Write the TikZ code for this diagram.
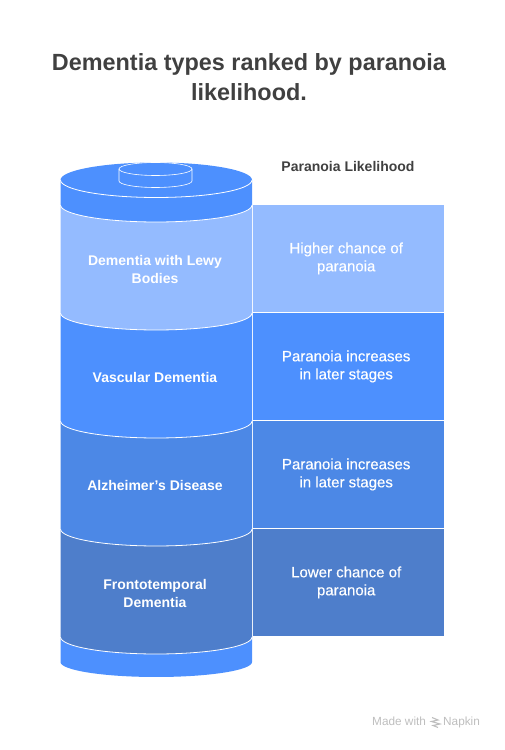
\documentclass[tikz,border=0pt]{standalone}
\usepackage{fontspec}
\setmainfont{Liberation Sans}
\newfontfamily\mediumfont[FakeBold=0.35]{Liberation Sans}
\definecolor{titleink}{RGB}{64,64,64}
\definecolor{capblue}{RGB}{77,144,254}
\definecolor{lewy}{RGB}{148,187,255}
\definecolor{vascular}{RGB}{77,144,254}
\definecolor{alzheimer}{RGB}{76,136,230}
\definecolor{fronto}{RGB}{78,126,203}
\definecolor{credit}{RGB}{190,190,190}
\tikzset{
  title/.style={font=\bfseries\fontsize{23.4}{30}\selectfont, text=titleink, align=center},
  heading/.style={font=\bfseries\fontsize{14}{18}\selectfont, text=titleink, align=center},
  layertext/.style={font=\bfseries\fontsize{14}{18}\selectfont, text=white, align=center},
  panel/.style={minimum width=191pt, minimum height=106.5pt, inner sep=0pt},
  paneltext/.style={font=\mediumfont\fontsize{15}{18}\selectfont, text=white, align=center},
  rim/.style={draw=white, line width=0.8pt},
  credittext/.style={font=\fontsize{11.8}{14}\selectfont, text=credit, inner sep=0pt},
}
% #1 name, #2 top edge, #3 colour, #4 left text, #5 right text
\newcommand{\Layer}[5]{%
  \fill[#3] (60.5,#2) -- (60.5,#2-108) arc[start angle=180, end angle=360, x radius=95.75, y radius=17] -- (252,#2) -- cycle;
  \draw[rim] (60.5,#2-108) arc[start angle=180, end angle=360, x radius=95.75, y radius=17];
  \node[layertext] (#1) at (155,#2-64.5) {#4};
  \node[panel, fill=#3, anchor=north west] (#1-panel) at (253,#2) {};
  \node[paneltext] (#1-note) at ([xshift=-2.5pt]#1-panel.center) {#5};
}

\begin{document}
\begin{tikzpicture}[x=1pt,y=1pt]
  \useasboundingbox (0,0) rectangle (504,750);

  \node[title] (heading) at (249,673) {Dementia types ranked by paranoia\\likelihood.};
  \node[heading] (likelihood) at (348,583) {Paranoia Likelihood};

  % Base of the stack
  \fill[capblue] (60.5,113) -- (60.5,88) arc[start angle=180, end angle=360, x radius=95.75, y radius=15] -- (252,113) -- cycle;

  % Layers, lowest first
  \Layer{frontotemporal}{221}{fronto}{Frontotemporal\\Dementia}{Lower chance of\\paranoia}
  \Layer{alzheimers}{329}{alzheimer}{Alzheimer's Disease}{Paranoia increases\\in later stages}
  \Layer{vascular}{437}{vascular}{Vascular Dementia}{Paranoia increases\\in later stages}
  \Layer{lewybodies}{545}{lewy}{Dementia with Lewy\\Bodies}{Higher chance of\\paranoia}

  % Top cap
  \fill[capblue] (60.5,570) -- (60.5,545) arc[start angle=180, end angle=360, x radius=95.75, y radius=17] -- (252,570) arc[start angle=0, end angle=180, x radius=95.75, y radius=17.5] -- cycle;
  \draw[rim] (60.5,545) arc[start angle=180, end angle=360, x radius=95.75, y radius=17];
  \draw[rim] (60.5,570) arc[start angle=180, end angle=360, x radius=95.75, y radius=17.5];

  % Knob on the cap
  \draw[rim, line width=0.6pt] (119,581) -- (119,569) arc[start angle=180, end angle=360, x radius=36.5, y radius=6.5] -- (192,581);
  \draw[rim, line width=0.6pt] (155.5,581) ellipse[x radius=36.5, y radius=6.5];

  % Credit
  \node[credittext, anchor=base west] (made) at (372,24) {Made with};
  \node[credittext, anchor=base west] (napkin) at (443,24) {Napkin};
  \draw[credit, line width=1.1pt] (432,32.5) -- (438,30) -- (431.5,28.5) -- (440,26) -- (433,24.5) -- (438,22.5);
\end{tikzpicture}
\end{document}
